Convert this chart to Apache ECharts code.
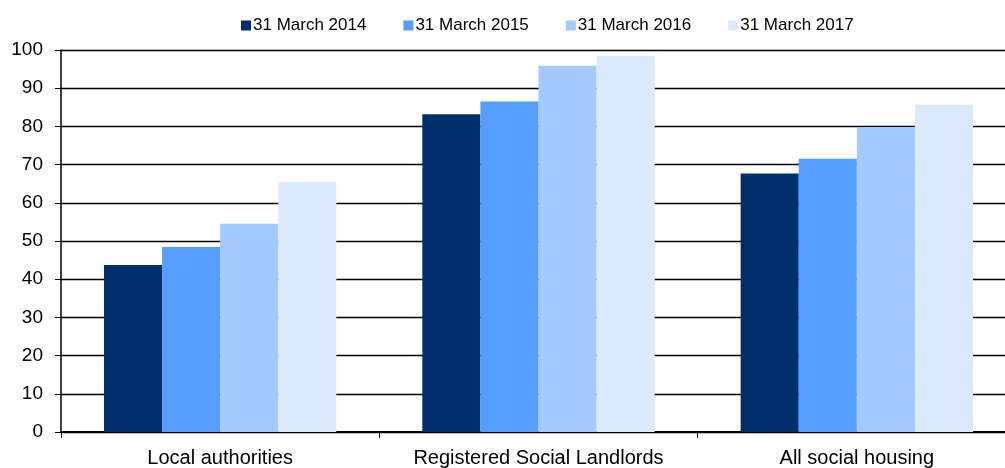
<!DOCTYPE html>
<html>
<head>
<meta charset="utf-8">
<script src="https://cdn.jsdelivr.net/npm/echarts@6/dist/echarts.min.js"></script>
<style>
  html, body { margin: 0; padding: 0; background: #fff; }
  #chart { width: 1005px; height: 468px; }
</style>
</head>
<body>
<div id="chart"></div>
<script>
const categories = ["Local authorities", "Registered Social Landlords", "All social housing"];
const seriesNames = ["31 March 2014", "31 March 2015", "31 March 2016", "31 March 2017"];
const values2014 = [43.7, 83.2, 67.7];
const values2015 = [48.4, 86.5, 71.5];
const values2016 = [54.5, 95.9, 79.8];
const values2017 = [65.5, 98.5, 85.7];
const yTicks = [0, 100, 10];

const colors = ["#002e6b", "#559dff", "#a4c9ff", "#dceafe"];
const allValues = [values2014, values2015, values2016, values2017];

const chart = echarts.init(document.getElementById("chart"));

const option = {
    animation: false,
    textStyle: { fontFamily: "Liberation Sans, Arial, sans-serif", color: "#000" },
    legend: {
        top: 12,
        left: 236,
        itemWidth: 10,
        itemHeight: 10,
        itemGap: 37,
        icon: "rect",
        textStyle: { fontSize: 17, color: "#000", padding: [0, 0, 0, -3] },
        data: seriesNames,
    },
    grid: {
        left: 61,
        top: 50,
        width: 955,
        height: 382,
        outerBoundsMode: "none",
        containLabel: false,
    },
    xAxis: {
        type: "category",
        data: categories,
        axisLine: { lineStyle: { color: "#000", width: 2 } },
        axisTick: { show: true, length: 6, lineStyle: { color: "#000" } },
        axisLabel: { fontSize: 20, color: "#000", margin: 16, interval: 0 },
    },
    yAxis: {
        type: "value",
        min: yTicks[0],
        max: yTicks[1],
        interval: yTicks[2],
        axisLine: { show: true, lineStyle: { color: "#000", width: 1.5 } },
        axisTick: { show: true, length: 6, lineStyle: { color: "#000" } },
        axisLabel: { fontSize: 19, color: "#000", margin: 18 },
        splitLine: { lineStyle: { color: "#000", width: 1.3 } },
    },
    series: seriesNames.map((name, i) => ({
        name: name,
        type: "bar",
        data: allValues[i],
        barGap: "0%",
        barCategoryGap: "27%",
        itemStyle: { color: colors[i] },
    })),
};

chart.setOption(option);
</script>
</body>
</html>
